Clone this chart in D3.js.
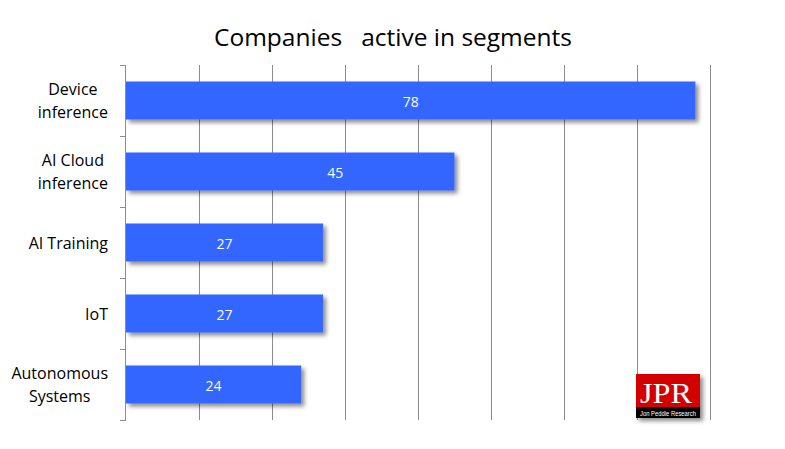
<!DOCTYPE html>
<html><head><meta charset="utf-8">
<script src="https://cdn.jsdelivr.net/npm/d3@7"></script>
<style>body{margin:0;background:#fff}svg{display:block}</style>
</head><body>
<script>
const categories = [["Device","inference"],["AI Cloud","inference"],["AI Training"],["IoT"],["Autonomous","Systems"]];
const values = [78,45,27,27,24];
const xTicks = [0,10,20,30,40,50,60,70,80];
const title = "Companies\u00a0\u00a0 active in segments";

const W=785,H=449;
const svg=d3.select("body").append("svg").attr("width",W).attr("height",H);
const defs=svg.append("defs");
const f=defs.append("filter").attr("id","sh").attr("x","-10%").attr("y","-30%").attr("width","130%").attr("height","180%");
f.append("feDropShadow").attr("dx",3).attr("dy",3).attr("stdDeviation",2.2).attr("flood-color","#000").attr("flood-opacity",0.45);

const m={l:126,r:75,t:65,b:29};
const x=d3.scaleLinear().domain([0,80]).range([m.l,710]);
const y=d3.scaleBand().domain(d3.range(values.length)).range([m.t,H-m.b]).paddingInner(0.465).paddingOuter(0.2325);
const yb=d3.scaleBand().domain(d3.range(values.length)).range([m.t,H-m.b]);

const font="Open Sans, sans-serif";
svg.append("text").attr("x",393).attr("y",46).attr("text-anchor","middle")
  .attr("font-family",font).attr("font-size",24.5).attr("fill","#000").text(title);

// gridlines
svg.append("g").selectAll("line").data(xTicks.slice(1)).join("line")
  .attr("x1",d=>Math.round(x(d))+0.5).attr("x2",d=>Math.round(x(d))+0.5)
  .attr("y1",m.t).attr("y2",H-m.b).attr("stroke","#8c8c8c").attr("stroke-width",1);

// bars
svg.append("g").selectAll("rect").data(values).join("rect")
  .attr("x",x(0)).attr("y",(d,i)=>y(i)).attr("width",d=>x(d)-x(0)).attr("height",y.bandwidth())
  .attr("fill","#3366FF").attr("filter","url(#sh)");

// value labels (the second label sits off-centre in the original)
const labelDx=[0,45,0,0,0];
svg.append("g").selectAll("text").data(values).join("text")
  .attr("x",(d,i)=>(x(0)+x(d))/2+labelDx[i]).attr("y",(d,i)=>y(i)+y.bandwidth()/2+6)
  .attr("text-anchor","middle").attr("font-family",font).attr("font-size",14).attr("fill","#fff").text(d=>d);

// y axis
const ax=svg.append("g").attr("stroke","#8c8c8c").attr("stroke-width",1);
ax.append("line").attr("x1",m.l-0.5).attr("x2",m.l-0.5).attr("y1",m.t).attr("y2",H-m.b);
const tickYs=d3.range(values.length).map(i=>yb(i)).concat([H-m.b]);
ax.selectAll("line.t").data(tickYs).join("line").attr("class","t")
  .attr("x1",m.l-6).attr("x2",m.l).attr("y1",d=>Math.round(d)+0.5).attr("y2",d=>Math.round(d)+0.5);

// category labels: each block centred, right edge at 108
const lab=svg.append("g").selectAll("text").data(categories).join("text")
  .attr("text-anchor","middle").attr("font-family",font).attr("font-size",16).attr("fill","#000");
lab.each(function(d,i){
  const t=d3.select(this);
  const spans=d.map((s,k)=>t.append("tspan").attr("x",0).attr("y",(k-(d.length-1)/2)*23+6).text(s));
  const wmax=d3.max(spans,sp=>sp.node().getComputedTextLength());
  t.attr("transform",`translate(${108-wmax/2},${yb(i)+yb.bandwidth()/2})`);
});

// JPR logo
const lg=svg.append("g").attr("filter","url(#sh)");
lg.append("rect").attr("x",636).attr("y",374).attr("width",64).attr("height",34).attr("fill","#d40000");
lg.append("rect").attr("x",636).attr("y",407).attr("width",64).attr("height",11).attr("fill","#000");
svg.append("text").attr("x",666).attr("y",403).attr("text-anchor","middle").attr("font-family","Liberation Serif, serif")
  .attr("font-size",30).attr("fill","#fff").attr("textLength",52).attr("lengthAdjust","spacingAndGlyphs").text("JPR");
svg.append("text").attr("x",668).attr("y",416).attr("text-anchor","middle").attr("font-family","Liberation Sans Narrow, sans-serif")
  .attr("font-size",7).attr("fill","#fff").attr("textLength",56).attr("lengthAdjust","spacingAndGlyphs").text("Jon Peddie Research");
</script>
</body></html>
